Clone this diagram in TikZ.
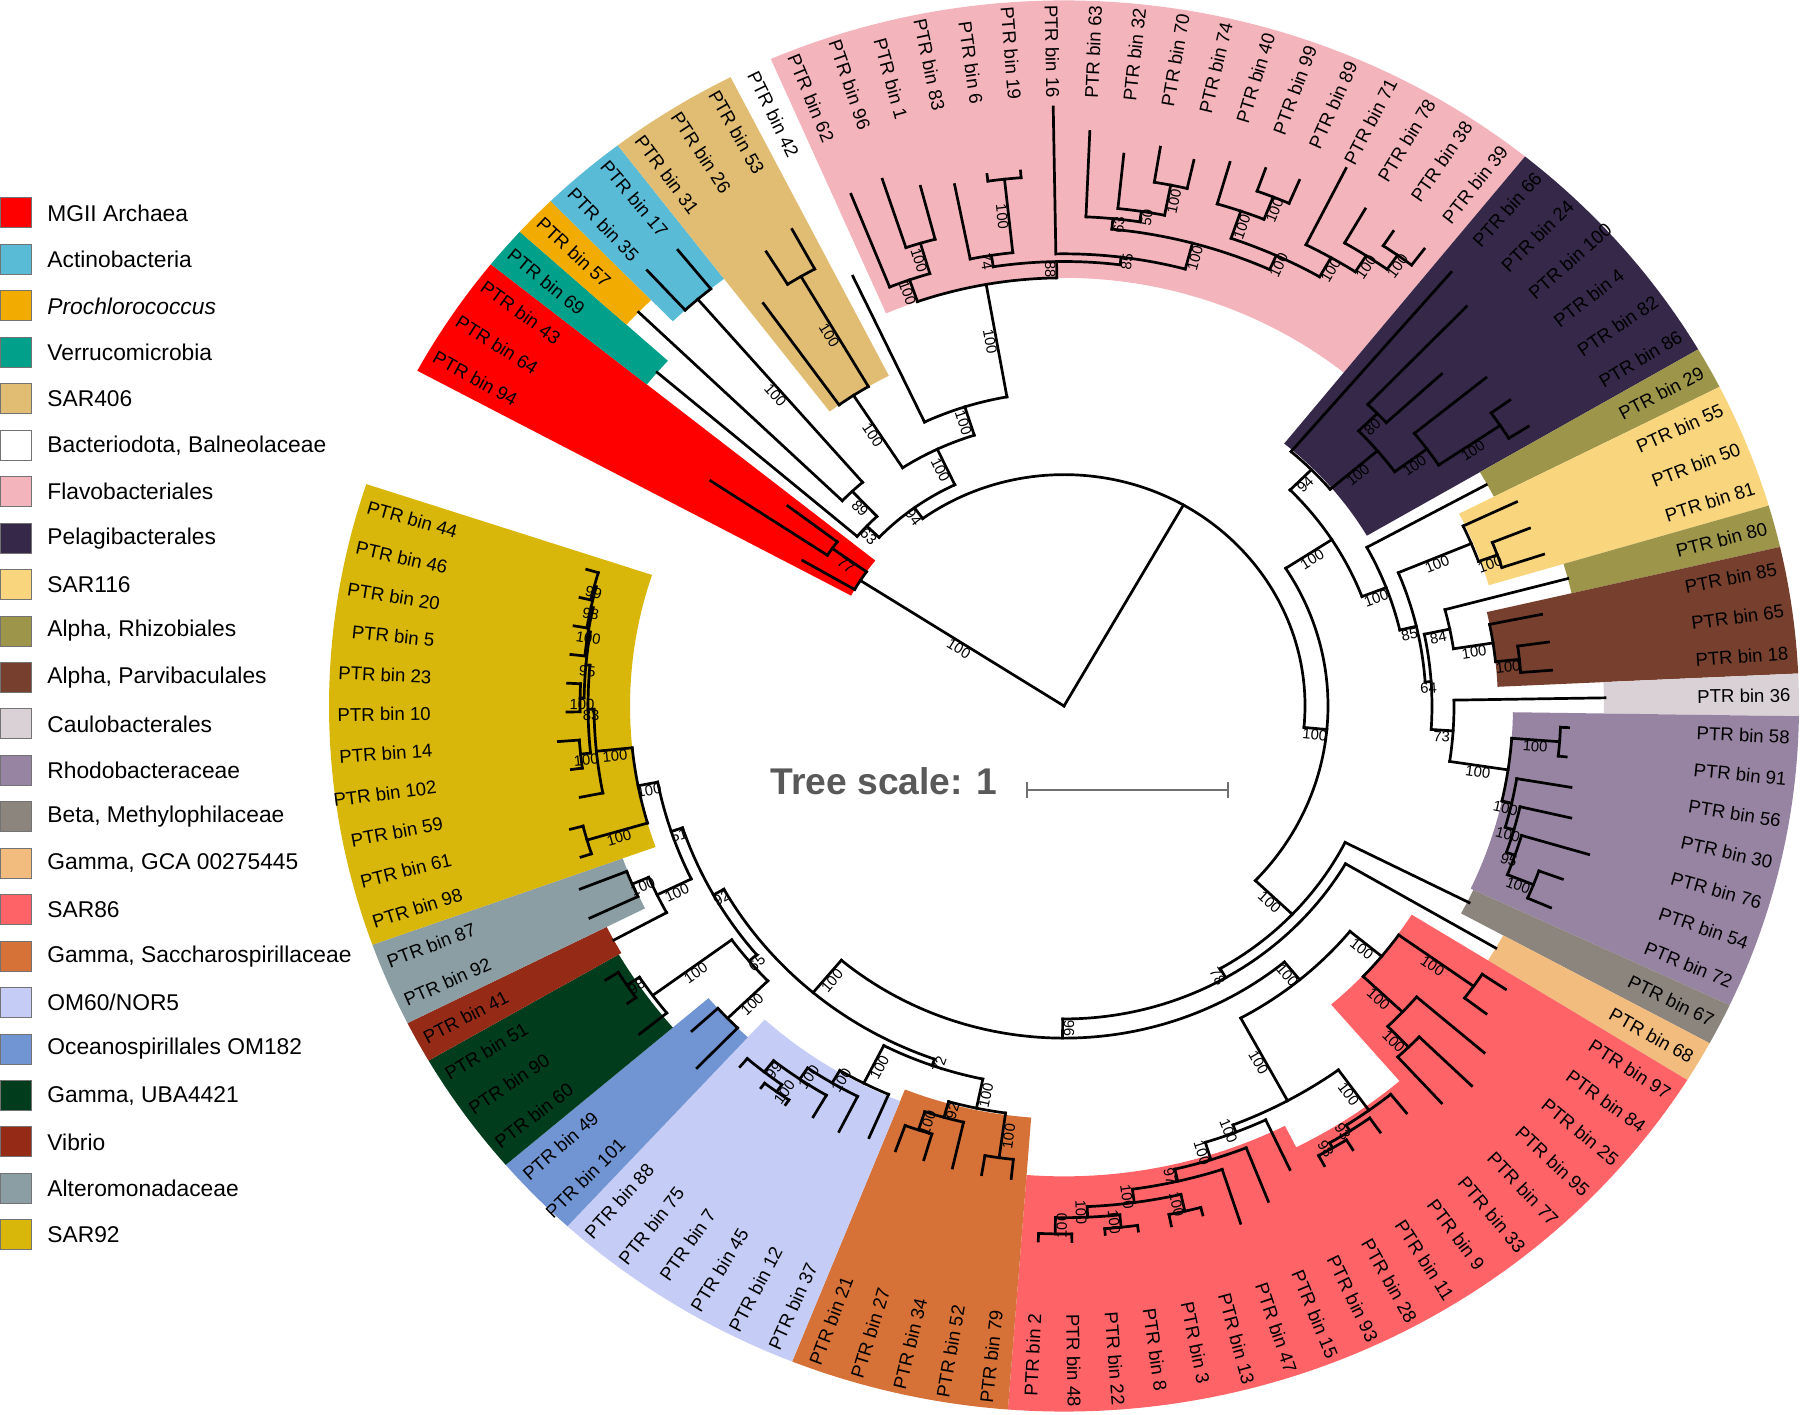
\documentclass[tikz,border=0pt]{standalone}
\usepackage{fontspec}
\setmainfont{Liberation Sans}
\definecolor{cMGII}{HTML}{FF0000}
\definecolor{cActino}{HTML}{5ABBD6}
\definecolor{cProchl}{HTML}{F2AB00}
\definecolor{cVerru}{HTML}{00A08A}
\definecolor{cSARfour}{HTML}{E0BD72}
\definecolor{cFlavo}{HTML}{F4B4BC}
\definecolor{cPelagi}{HTML}{352849}
\definecolor{cSARoneone}{HTML}{F9D67E}
\definecolor{cRhizo}{HTML}{9C954A}
\definecolor{cParvi}{HTML}{763F2E}
\definecolor{cCaulo}{HTML}{D9D1D5}
\definecolor{cRhodo}{HTML}{9784A2}
\definecolor{cBeta}{HTML}{8C857E}
\definecolor{cGCA}{HTML}{F1BC7E}
\definecolor{cSAReight}{HTML}{FE6467}
\definecolor{cSacch}{HTML}{D67137}
\definecolor{cOMsix}{HTML}{C5CCF5}
\definecolor{cOMone}{HTML}{7194D2}
\definecolor{cUBA}{HTML}{013D1C}
\definecolor{cVibrio}{HTML}{952B17}
\definecolor{cAltero}{HTML}{8A9EA4}
\definecolor{cSARnine}{HTML}{D8B60A}
\definecolor{tsgray}{HTML}{595959}
\definecolor{sbgray}{HTML}{707070}
\newcounter{bsn}
\tikzset{
  br/.style={line width=1.35pt, line cap=rect, black},
  leaflab/.style={inner sep=0pt, font=\fontsize{9.3pt}{11pt}\selectfont},
  bstxt/.style={inner sep=0.4pt, anchor=north, font=\fontsize{7.4pt}{8pt}\selectfont},
  legtxt/.style={anchor=west, inner sep=0pt, font=\fontsize{11.4pt}{13pt}\selectfont},
  swatch/.style={draw=black!55, line width=0.5pt},
}
% r, a1, a2
\newcommand\tarc[3]{\draw[br] (#2:#1) arc[start angle=#2,end angle=#3,radius=#1];}
% angle, r1, r2
\newcommand\tleaf[3]{\draw[br] (#1:#2) -- (#1:#3);}
% angle, r1, r2, bootstrap
\newcommand\tbs[4]{%
  \pgfmathsetmacro\bsr{(#2+#3)/2}%
  \pgfmathsetmacro\bsva{atan2(0.96*sin(#1),cos(#1))}%
  \pgfmathsetmacro\bsrot{cos(#1)<0 ? \bsva+180 : \bsva}%
  \stepcounter{bsn}%
  \node[bstxt,rotate=\bsrot] (bs\thebsn) at (#1:\bsr) {#4};}
\newcommand\tstem[4]{\draw[br] (#1:#2) -- (#1:#3);\tbs{#1}{#2}{#3}{#4}}
% angle, number
\newcommand\tlab[2]{%
  \pgfmathsetmacro\lva{atan2(0.96*sin(#1),cos(#1))}%
  \pgfmathtruncatemacro\lside{cos(#1)<0 ? 0 : 1}%
  \ifnum\lside=1
    \node[leaflab,anchor=west,rotate=\lva] (L#2) at (#1:633) {PTR bin #2};%
  \else
    \pgfmathsetmacro\lrot{\lva+180}%
    \node[leaflab,anchor=east,rotate=\lrot] (L#2) at (#1:633) {PTR bin #2};%
  \fi}
% colour, a1, a2, inner radius
\newcommand\twedge[4]{\fill[#1] (#2:#4) arc[start angle=#2,end angle=#3,radius=#4] -- (#3:735) arc[start angle=#3,end angle=#2,radius=735] -- cycle;}
\begin{document}
\begin{tikzpicture}[x=0.5pt,y=0.5pt]
\useasboundingbox (0,0) rectangle (1801,1415);
\fill[white] (0,0) rectangle (1801,1415);
\begin{scope}[shift={(1064,709)},yscale=0.96]
% ---------- coloured ranges
\twedge{cFlavo}{51.15}{113.51}{446}
\twedge{cPelagi}{30.36}{51.15}{351}
\twedge{cRhizo}{26.89}{30.36}{482}
\twedge{cSARoneone}{16.50}{26.89}{443}
\twedge{cRhizo}{13.03}{16.50}{521}
\twedge{cParvi}{2.64}{13.03}{434}
\twedge{cCaulo}{-0.83}{2.64}{540}
\twedge{cRhodo}{-25.08}{-0.83}{449}
\twedge{cBeta}{-28.55}{-25.08}{452}
\twedge{cGCA}{-32.01}{-28.55}{500}
\fill[cSAReight] (-94.38:490) arc[start angle=-94.38,end angle=-63.20,radius=490]
  -- (-63.20:515) arc[start angle=-63.20,end angle=-49.34,radius=515]
  -- (-49.34:410) arc[start angle=-49.34,end angle=-32.01,radius=410]
  -- (-32.01:735) arc[start angle=-32.01,end angle=-94.38,radius=735] -- cycle;
\twedge{cSacch}{248.29}{265.62}{430}
\twedge{cOMsix}{227.50}{248.29}{443}
\twedge{cOMone}{220.57}{227.50}{468}
\twedge{cUBA}{210.17}{220.57}{515}
\twedge{cVibrio}{206.71}{210.17}{512}
\twedge{cAltero}{199.78}{206.71}{469}
\twedge{cSARnine}{161.67}{199.78}{434}
\twedge{cMGII}{141.24}{151.63}{242}
\twedge{cVerru}{137.77}{141.24}{535}
\twedge{cProchl}{134.31}{137.77}{591}
\twedge{cActino}{127.38}{134.31}{560}
\twedge{cSARfour}{116.98}{127.38}{386}
% ---------- tree
\coordinate (root) at (0,0);
\tleaf{60.3}{0}{241}
\tarc{241}{-5.32}{125.91}
% MGII
\tstem{147.3}{0}{242}{100}\tarc{242}{144.7}{149.9}
\tstem{144.7}{242}{284}{77}\tarc{284}{142.97}{146.43}
\tleaf{142.97}{284}{346}\tleaf{146.43}{284}{424}\tleaf{149.9}{242}{302}
% N94 group
\tstem{125.91}{241}{255}{94}\tarc{255}{115.35}{136.47}
\tstem{136.47}{255}{272}{63}\tarc{272}{133.44}{139.5}\tleaf{139.5}{272}{535}
\tstem{133.44}{272}{308}{89}\tarc{308}{130.84}{136.04}\tleaf{136.04}{308}{591}
\tstem{130.84}{308}{560}{100}\tarc{560}{129.11}{132.57}\tleaf{129.11}{560}{612}\tleaf{132.57}{560}{616}
\tstem{115.35}{255}{296}{100}\tarc{296}{107.65}{123.04}
\tstem{123.04}{296}{386}{100}\tarc{386}{120.45}{125.64}\tleaf{125.64}{386}{516}
\tstem{120.45}{386}{519}{100}\tarc{519}{118.71}{122.18}\tleaf{118.71}{519}{566}\tleaf{122.18}{519}{559}
\tstem{107.65}{296}{327}{100}\tarc{327}{100.05}{115.25}\tleaf{115.25}{327}{495}
% Flavobacteriales
\tstem{100.05}{327}{446}{100}\tarc{446}{90.92}{109.18}
\tstem{109.18}{446}{470}{100}\tarc{470}{106.59}{111.78}\tleaf{111.78}{470}{574}
\tstem{106.59}{470}{503}{100}\tarc{503}{104.85}{108.32}\tleaf{108.32}{503}{578}\tleaf{104.85}{503}{560}
\tstem{90.92}{446}{463}{88}\tarc{463}{83.04}{98.79}
\tstem{98.79}{463}{475}{74}\tarc{475}{96.19}{101.39}\tleaf{101.39}{475}{554}
\tstem{96.19}{475}{552}{100}\tarc{552}{94.46}{97.92}\tleaf{94.46}{552}{559}\tleaf{97.92}{552}{559}
\tstem{83.04}{463}{471}{85}\tarc{471}{75.08}{90.99}\tleaf{90.99}{471}{624}
\tstem{75.08}{471}{499}{100}\tarc{499}{65.66}{84.5}
\tstem{84.5}{499}{510}{63}\tarc{510}{81.46}{87.53}\tleaf{87.53}{510}{599}
\tstem{81.46}{510}{521}{50}\tarc{521}{78.87}{84.06}\tleaf{84.06}{521}{578}
\tstem{78.87}{521}{553}{100}\tarc{553}{77.13}{80.6}\tleaf{80.6}{553}{590}\tleaf{77.13}{553}{583}
\tstem{65.66}{499}{515}{100}\tarc{515}{60.24}{71.07}
\tstem{71.07}{515}{545}{100}\tarc{545}{68.47}{73.67}\tleaf{73.67}{545}{590}
\tstem{68.47}{545}{570}{100}\tarc{570}{66.74}{70.2}\tleaf{70.2}{570}{595}\tleaf{66.74}{570}{596}
\tstem{60.24}{515}{538}{100}\tarc{538}{57.21}{63.27}\tleaf{63.27}{538}{627}
\tstem{57.21}{538}{558}{100}\tarc{558}{54.61}{59.81}\tleaf{59.81}{558}{599}
\tstem{54.61}{558}{576}{100}\tarc{576}{52.88}{56.34}\tleaf{56.34}{576}{594}\tleaf{52.88}{576}{597}
% Y
\tstem{-5.32}{241}{264}{100}\tarc{264}{-43.54}{32.9}
\tstem{32.9}{264}{319}{100}\tarc{319}{20.94}{44.86}
% Pelagibacterales
\tstem{44.86}{319}{349}{94}\tarc{349}{40.3}{49.41}\tleaf{49.41}{349}{595}
\tstem{40.3}{349}{411}{100}\tarc{411}{36.42}{44.2}
\tstem{44.2}{411}{437}{80}\tarc{437}{42.48}{45.95}\tleaf{45.95}{437}{579}\tleaf{42.48}{437}{512}
\tstem{36.42}{411}{451}{100}\tarc{451}{33.82}{39.02}\tleaf{39.02}{451}{543}
\tstem{33.82}{451}{525}{100}\tarc{525}{32.09}{35.55}\tleaf{35.55}{525}{548}\tleaf{32.09}{525}{548}
% Alpha rest
\tstem{20.94}{319}{345}{100}\tarc{345}{13.26}{28.62}\tleaf{28.62}{345}{481}
\tstem{13.26}{345}{362}{85}\tarc{362}{3.96}{22.56}
\tstem{22.56}{362}{441}{100}\tarc{441}{19.96}{25.16}\tleaf{25.16}{441}{500}
\tstem{19.96}{441}{461}{100}\tarc{461}{18.23}{21.69}\tleaf{21.69}{461}{501}\tleaf{18.23}{461}{505}
\tstem{3.96}{362}{368}{64}\tarc{368}{-3.81}{11.73}
\tstem{11.73}{368}{394}{84}\tarc{394}{8.7}{14.76}\tleaf{14.76}{394}{521}
\tstem{8.7}{394}{434}{100}\tarc{434}{6.1}{11.3}\tleaf{11.3}{434}{487}
\tstem{6.1}{434}{458}{100}\tarc{458}{4.37}{7.83}\tleaf{7.83}{458}{489}\tleaf{4.37}{458}{489}
\tstem{-3.81}{368}{390}{73}\tarc{390}{-8.52}{0.9}\tleaf{0.9}{390}{541}
\tstem{-8.52}{390}{449}{100}\tarc{449}{-12.74}{-4.295}
\tstem{-4.295}{449}{497}{100}\tarc{497}{-6.03}{-2.56}\tleaf{-2.56}{497}{505}\tleaf{-6.03}{497}{505}
\tstem{-12.74}{449}{459}{100}\tarc{459}{-15.99}{-9.49}\tleaf{-9.49}{459}{514}
\tstem{-15.99}{459}{468}{100}\tarc{468}{-19.02}{-12.96}\tleaf{-12.96}{468}{520}
\tstem{-19.02}{468}{477}{95}\tarc{477}{-21.62}{-16.42}\tleaf{-16.42}{477}{547}
\tstem{-21.62}{477}{505}{100}\tarc{505}{-23.35}{-19.89}\tleaf{-19.89}{505}{530}\tleaf{-23.35}{505}{530}
% Gamma and others
\tstem{-43.54}{264}{315}{100}\tarc{315}{-60.26}{-26.82}\tleaf{-26.82}{315}{454}
\tstem{-60.26}{315}{326}{78}\tarc{326}{-90.24}{-30.28}\tleaf{-30.28}{326}{500}
\tstem{-90.24}{326}{346}{96}\tarc{346}{-130.05}{-50.42}
% SAR86
\tstem{-50.42}{346}{370}{100}\tarc{370}{-61.47}{-39.38}
\tstem{-39.38}{370}{411}{100}\tarc{411}{-43.28}{-35.48}
\tstem{-35.48}{411}{503}{100}\tarc{503}{-37.21}{-33.75}\tleaf{-33.75}{503}{531}\tleaf{-37.21}{503}{530}
\tstem{-43.28}{411}{465}{100}\tarc{465}{-45.875}{-40.68}\tleaf{-40.68}{465}{554}
\tstem{-45.875}{465}{495}{100}\tarc{495}{-47.61}{-44.14}\tleaf{-44.14}{495}{568}\tleaf{-47.61}{495}{560}
\tstem{-61.47}{370}{468}{100}\tarc{468}{-68.83}{-54.1}
\tstem{-54.1}{468}{520}{100}\tarc{520}{-57.14}{-51.07}\tleaf{-51.07}{520}{545}
\tstem{-57.14}{520}{527}{93}\tarc{527}{-59.735}{-54.54}\tleaf{-54.54}{527}{545}
\tstem{-59.735}{527}{533}{98}\tarc{533}{-61.47}{-58.0}\tleaf{-58.0}{533}{545}\tleaf{-61.47}{533}{545}
\tstem{-68.83}{468}{476}{100}\tarc{476}{-72.73}{-64.93}\tleaf{-64.93}{476}{533}
\tstem{-72.73}{476}{495}{100}\tarc{495}{-77.06}{-68.40}\tleaf{-68.40}{495}{555}
\tstem{-77.06}{495}{508}{97}\tarc{508}{-82.26}{-71.86}\tleaf{-71.86}{508}{567}
\tstem{-82.26}{508}{522}{100}\tarc{522}{-87.46}{-77.06}
\tstem{-77.06}{522}{540}{100}\tarc{540}{-78.79}{-75.33}\tleaf{-75.33}{540}{548}\tleaf{-78.79}{540}{552}
\tstem{-87.46}{522}{533}{100}\tarc{533}{-90.92}{-83.99}
\tstem{-83.99}{533}{546}{100}\tarc{546}{-85.72}{-82.26}\tleaf{-82.26}{546}{552}\tleaf{-85.72}{546}{552}
\tstem{-90.92}{533}{550}{100}\tarc{550}{-92.65}{-89.19}\tleaf{-89.19}{550}{558}\tleaf{-92.65}{550}{558}
% G_W
\tstem{-130.05}{346}{390}{100}\tarc{390}{209.3}{250.6}
\tstem{250.6}{390}{397}{72}\tarc{397}{243.0}{258.2}
\tstem{243.0}{397}{441}{100}\tarc{441}{239.44}{246.56}\tleaf{246.56}{441}{490}
\tstem{239.44}{441}{456}{100}\tarc{456}{235.79}{243.09}\tleaf{243.09}{456}{497}
\tstem{235.79}{456}{470}{100}\tarc{470}{231.83}{239.63}\tleaf{239.63}{470}{496}
\tstem{231.83}{470}{485}{99}\tarc{485}{229.23}{234.43}\tleaf{229.23}{485}{496}
\tstem{234.43}{485}{494}{100}\tarc{494}{232.7}{236.16}\tleaf{232.7}{494}{500}\tleaf{236.16}{494}{500}
\tstem{258.2}{397}{428}{100}\tarc{428}{254.35}{262.15}
\tstem{254.35}{428}{445}{92}\tarc{445}{251.76}{256.95}\tleaf{256.95}{445}{494}
\tstem{251.76}{445}{465}{100}\tarc{465}{250.02}{253.49}\tleaf{250.02}{465}{493}\tleaf{253.49}{465}{493}
\tstem{262.15}{428}{475}{100}\tarc{475}{260.42}{263.88}\tleaf{260.42}{475}{495}\tleaf{263.88}{475}{495}
\tstem{209.3}{390}{402}{92}\tarc{402}{198.4}{220.14}
\tstem{220.14}{402}{412}{65}\tarc{412}{216.24}{224.04}
\tstem{224.04}{412}{468}{100}\tarc{468}{222.3}{225.77}\tleaf{222.3}{468}{503}\tleaf{225.77}{468}{526}
\tstem{216.24}{412}{510}{100}\tarc{510}{213.64}{218.84}\tleaf{218.84}{510}{545}
\tstem{213.64}{510}{525}{98}\tarc{525}{211.91}{215.37}\tleaf{211.91}{525}{540}\tleaf{215.37}{525}{535}
\tstem{198.4}{402}{414}{51}\tarc{414}{191.04}{205.8}
\tstem{205.8}{414}{452}{100}\tarc{452}{203.25}{208.44}\tleaf{208.44}{452}{512}
\tstem{203.25}{452}{470}{100}\tarc{470}{201.51}{204.98}\tleaf{201.51}{470}{520}\tleaf{204.98}{470}{523}
\tstem{191.04}{414}{434}{100}\tarc{434}{185.76}{196.32}
\tstem{196.32}{434}{497}{100}\tarc{497}{194.58}{198.05}\tleaf{194.58}{497}{510}\tleaf{198.05}{497}{508}
\tstem{185.76}{434}{470}{100}\tarc{470}{180.4}{191.12}\tleaf{191.12}{470}{493}
\tstem{180.4}{470}{476}{83}\tarc{476}{174.88}{185.92}
\tstem{185.92}{476}{486}{100}\tarc{486}{184.19}{187.65}\tleaf{184.19}{486}{507}\tleaf{187.65}{486}{497}
\tstem{174.88}{476}{480}{95}\tarc{480}{170.76}{178.99}
\tstem{178.99}{480}{484}{100}\tarc{484}{177.26}{180.72}\tleaf{177.26}{484}{497}\tleaf{180.72}{484}{497}
\tstem{170.76}{480}{482}{100}\tarc{482}{167.73}{173.79}\tleaf{173.79}{482}{496}
\tstem{167.73}{482}{484}{98}\tarc{484}{165.13}{170.33}\tleaf{170.33}{484}{497}
\tstem{165.13}{484}{486}{99}\tarc{486}{163.4}{166.86}\tleaf{163.4}{486}{498}\tleaf{166.86}{486}{497}
% ---------- leaf labels
\foreach \a/\n in {0.9/36, 4.37/18, 7.83/65, 11.30/85, 14.76/80, 18.23/81, 21.69/50, 25.16/55, 28.62/29, 32.09/86, 35.55/82, 39.02/4, 42.48/100, 45.95/24, 49.41/66, 52.88/39, 56.34/38, 59.81/78, 63.27/71, 66.74/89, 70.20/99, 73.67/40, 77.13/74, 80.60/70, 84.06/32, 87.53/63, 90.99/16, 94.46/19, 97.92/6, 101.39/83, 104.85/1, 108.32/96, 111.78/62, 115.25/42, 118.71/53, 122.18/26, 125.64/31, 129.11/17, 132.57/35, 136.04/57, 139.50/69, 142.97/43, 146.43/64, 149.90/94, 163.40/44, 166.86/46, 170.33/20, 173.79/5, 177.26/23, 180.72/10, 184.19/14, 187.65/102, 191.12/59, 194.58/61, 198.05/98, 201.51/87, 204.98/92, 208.44/41, 211.91/51, 215.37/90, 218.84/60, 222.30/49, 225.77/101, 229.23/88, 232.70/75, 236.16/7, 239.63/45, 243.09/12, 246.56/37, 250.02/21, 253.49/27, 256.95/34, 260.42/52, 263.88/79, 267.35/2, 270.81/48, 274.28/22, 277.74/8, 281.21/3, 284.67/13, 288.14/47, 291.60/15, 295.07/93, 298.53/28, 302.00/11, 305.46/9, 308.93/33, 312.39/77, 315.86/95, 319.32/25, 322.79/84, 326.25/97, 329.72/68, 333.18/67, 336.65/72, 340.11/54, 343.58/76, 347.04/30, 350.51/56, 353.97/91, 357.44/58}
  {\tlab{\a}{\n}}
\end{scope}
% ---------- tree scale
\node[font=\bfseries\fontsize{18.6pt}{20pt}\selectfont, text=tsgray, anchor=base, inner sep=0pt] (ts) at (884,620) {Tree scale: 1};
\coordinate (sbA) at (1027,625);
\coordinate (sbB) at (1228,625);
\draw[sbgray, line width=0.8pt] (sbA) -- (sbB);
\draw[sbgray, line width=0.8pt] ([yshift=-4pt]sbA) -- ([yshift=4pt]sbA);
\draw[sbgray, line width=0.8pt] ([yshift=-4pt]sbB) -- ([yshift=4pt]sbB);
% ---------- legend
\foreach \i/\c/\t in {0/cMGII/{MGII Archaea}, 1/cActino/{Actinobacteria}, 2/cProchl/{\itshape Prochlorococcus}, 3/cVerru/{Verrucomicrobia}, 4/cSARfour/{SAR406}, 5/white/{Bacteriodota, Balneolaceae}, 6/cFlavo/{Flavobacteriales}, 7/cPelagi/{Pelagibacterales}, 8/cSARoneone/{SAR116}, 9/cRhizo/{Alpha, Rhizobiales}, 10/cParvi/{Alpha, Parvibaculales}, 11/cCaulo/{Caulobacterales}, 12/cRhodo/{Rhodobacteraceae}, 13/cBeta/{Beta, Methylophilaceae}, 14/cGCA/{Gamma, GCA 00275445}, 15/cSAReight/{SAR86}, 16/cSacch/{Gamma, Saccharospirillaceae}, 17/cOMsix/{OM60/NOR5}, 18/cOMone/{Oceanospirillales OM182}, 19/cUBA/{Gamma, UBA4421}, 20/cVibrio/{Vibrio}, 21/cAltero/{Alteromonadaceae}, 22/cSARnine/{SAR92}}
{
  \pgfmathsetmacro\yy{1202-46.45*\i}
  \draw[swatch, fill=\c] (0.5,\yy-15) rectangle (31,\yy+15);
  \node[legtxt] (lg\i) at (47,\yy) {\t};
}
\end{tikzpicture}
\end{document}
